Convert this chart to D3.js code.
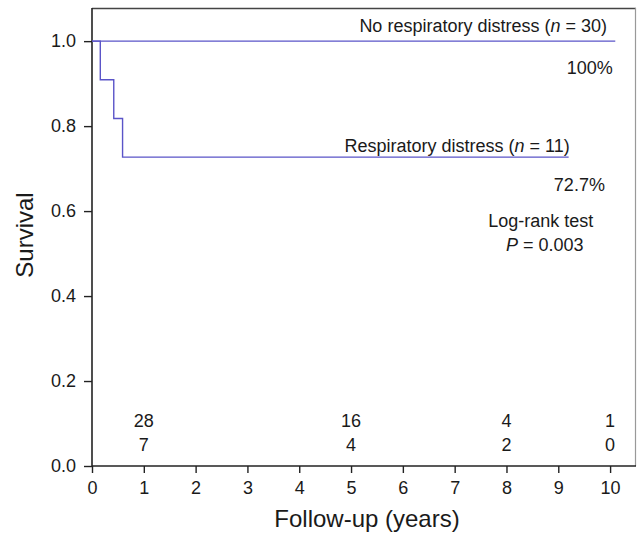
<!DOCTYPE html>
<html>
<head>
<meta charset="utf-8">
<script src="https://cdn.jsdelivr.net/npm/d3@7"></script>
<style>
  body { margin: 0; background: #fff; }
  svg text { font-family: "Liberation Sans", Arial, sans-serif; fill: #1a1a1a; }
</style>
</head>
<body>
<svg id="chart" width="642" height="533"></svg>
<script>
// Kaplan-Meier steps: [time in years, survival]
var noDistress = [[0, 1.0], [10.1, 1.0]];
var distress = [[0, 1.0], [0.16, 0.909], [0.42, 0.818], [0.59, 0.727], [9.2, 0.727]];

var xTicks = [0, 1, 2, 3, 4, 5, 6, 7, 8, 9, 10];
var yTicks = [0.0, 0.2, 0.4, 0.6, 0.8, 1.0];

// numbers at risk
var riskTimes = [1, 5, 8, 10];
var riskNoDistress = [28, 16, 4, 1];
var riskDistress = [7, 4, 2, 0];

var svg = d3.select("#chart");
var margin = {top: 8, right: 6, bottom: 67, left: 92},
	width = svg.attr("width") - margin.left - margin.right,
	height = svg.attr("height") - margin.top - margin.bottom,
	g = svg.append("g").attr("transform", "translate(" + margin.left + "," + margin.top + ")");

var x = d3.scaleLinear().domain([0, 10.5]).range([0, width]);
var y = d3.scaleLinear().domain([0, 1.078]).range([height, 0]);

// frame: top dark, right lighter
g.append("line").attr("x1", 0).attr("x2", width).attr("y1", 0.5).attr("y2", 0.5)
	.attr("stroke", "#444").attr("stroke-width", 1.3);
g.append("line").attr("x1", width - 0.5).attr("x2", width - 0.5).attr("y1", 0).attr("y2", height)
	.attr("stroke", "#999").attr("stroke-width", 1.2);

var xAxis = g.append("g")
	.attr("transform", "translate(0," + height + ")")
	.call(d3.axisBottom(x).tickValues(xTicks).tickSize(7).tickPadding(8).tickFormat(d3.format("d")));

var yAxis = g.append("g")
	.call(d3.axisLeft(y).tickValues(yTicks).tickSize(8).tickPadding(8).tickFormat(d3.format(".1f")));

[xAxis, yAxis].forEach(function(ax) {
	ax.select(".domain").attr("stroke", "#222").attr("stroke-width", 1.6);
	ax.selectAll(".tick line").attr("stroke", "#222").attr("stroke-width", 1.4);
	ax.selectAll(".tick text").style("font-size", "18px").attr("fill", "#1a1a1a");
});
xAxis.select(".domain").attr("d", "M0,0H" + width);
yAxis.select(".domain").attr("d", "M0," + height + "V0");

var line = d3.line()
	.x(function(d) { return x(d[0]); })
	.y(function(d) { return y(d[1]); })
	.curve(d3.curveStepAfter);

[noDistress, distress].forEach(function(s) {
	g.append("path")
		.attr("d", line(s))
		.attr("fill", "none")
		.attr("stroke", "#5a54c8")
		.attr("stroke-width", 1.4);
});

// labels
var lbl = g.append("g").style("font-size", "18px");

var t1 = lbl.append("text").attr("x", x(9.94)).attr("y", y(1.021)).attr("text-anchor", "end");
t1.append("tspan").text("No respiratory distress (");
t1.append("tspan").style("font-style", "italic").text("n");
t1.append("tspan").text(" = 30)");

lbl.append("text").attr("x", x(10.05)).attr("y", y(0.922)).attr("text-anchor", "end").text("100%");

var t2 = lbl.append("text").attr("x", x(9.22)).attr("y", y(0.739)).attr("text-anchor", "end");
t2.append("tspan").text("Respiratory distress (");
t2.append("tspan").style("font-style", "italic").text("n");
t2.append("tspan").text(" = 11)");

lbl.append("text").attr("x", x(9.9)).attr("y", y(0.647)).attr("text-anchor", "end").text("72.7%");

lbl.append("text").attr("x", x(8.66)).attr("y", y(0.562)).attr("text-anchor", "middle").text("Log-rank test");
var p = lbl.append("text").attr("x", x(8.74)).attr("y", y(0.506)).attr("text-anchor", "middle");
p.append("tspan").style("font-style", "italic").text("P");
p.append("tspan").text(" = 0.003");

// numbers at risk
var risk = g.append("g").style("font-size", "18px").attr("text-anchor", "middle");
riskTimes.forEach(function(t, i) {
	risk.append("text").attr("x", x(t)).attr("y", y(0.092)).text(riskNoDistress[i]);
	risk.append("text").attr("x", x(t)).attr("y", y(0.035)).text(riskDistress[i]);
});

// axis titles
svg.append("text")
	.attr("transform", "translate(33,235) rotate(-90)")
	.attr("text-anchor", "middle")
	.style("font-size", "24px")
	.text("Survival");

svg.append("text")
	.attr("x", 367)
	.attr("y", 527)
	.attr("text-anchor", "middle")
	.style("font-size", "24px")
	.text("Follow-up (years)");
</script>
</body>
</html>
